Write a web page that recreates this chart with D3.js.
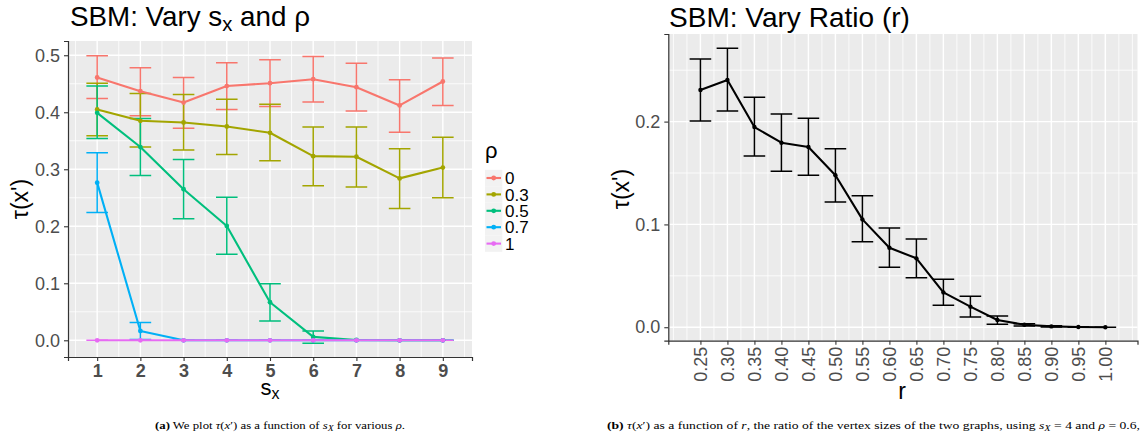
<!DOCTYPE html>
<html>
<head>
<meta charset="utf-8">
<script src="https://cdn.jsdelivr.net/npm/d3@7/dist/d3.min.js"></script>
<style>
  html, body { margin: 0; padding: 0; background: #fff; }
  svg { display: block; }
</style>
</head>
<body>
<svg id="chart" width="1143" height="443"></svg>
<script>
// ---------------- DATA ----------------
const sxValues = [1, 2, 3, 4, 5, 6, 7, 8, 9];
const rhoLevels = ["0", "0.3", "0.5", "0.7", "1"];
const rhoColors = ["#F8766D", "#A3A500", "#00BF7D", "#00B0F6", "#E76BF3"];

const meanRho0  = [0.461, 0.437, 0.417, 0.446, 0.451, 0.458, 0.444, 0.412, 0.454];
const lowRho0   = [0.424, 0.394, 0.372, 0.405, 0.410, 0.418, 0.402, 0.365, 0.412];
const highRho0  = [0.499, 0.478, 0.461, 0.487, 0.492, 0.498, 0.486, 0.457, 0.495];

const meanRho03 = [0.405, 0.385, 0.382, 0.375, 0.364, 0.323, 0.322, 0.284, 0.303];
const lowRho03  = [0.359, 0.339, 0.334, 0.326, 0.315, 0.271, 0.269, 0.231, 0.250];
const highRho03 = [0.451, 0.433, 0.431, 0.423, 0.414, 0.374, 0.374, 0.336, 0.356];

const meanRho05 = [0.399, 0.339, 0.265, 0.2005, 0.0667, 0.0060, 0.0005, 0.0, 0.0];
const lowRho05  = [0.354, 0.289, 0.213, 0.151, 0.034, -0.005, 0.0, 0.0, 0.0];
const highRho05 = [0.446, 0.389, 0.317, 0.251, 0.099, 0.0163, 0.001, 0.0, 0.0];

const meanRho07 = [0.2765, 0.0163, 0, 0, 0, 0, 0, 0, 0];
const lowRho07  = [0.224, 0.0016, 0, 0, 0, 0, 0, 0, 0];
const highRho07 = [0.329, 0.031, 0, 0, 0, 0, 0, 0, 0];

const meanRho1  = [0, 0, 0, 0, 0, 0, 0, 0, 0];
const lowRho1   = [0, 0, 0, 0, 0, 0, 0, 0, 0];
const highRho1  = [0, 0, 0, 0, 0, 0, 0, 0, 0];

const leftXTicks = [1, 2, 3, 4, 5, 6, 7, 8, 9];
const leftYTicks = [0.0, 0.1, 0.2, 0.3, 0.4, 0.5];

const ratios   = [0.25, 0.30, 0.35, 0.40, 0.45, 0.50, 0.55, 0.60, 0.65, 0.70, 0.75, 0.80, 0.85, 0.90, 0.95, 1.00];
const meanR    = [0.2307, 0.2405, 0.1947, 0.1795, 0.1753, 0.1478, 0.1049, 0.0773, 0.0670, 0.0339, 0.0200, 0.0070, 0.0024, 0.0008, 0.0002, 0.0000];
const lowR     = [0.2006, 0.2103, 0.1665, 0.1516, 0.1478, 0.1218, 0.0832, 0.0583, 0.0482, 0.0213, 0.0099, 0.0028, 0.0012, 0.0002, 0.0000, 0.0000];
const highR    = [0.2609, 0.2713, 0.2236, 0.2074, 0.2032, 0.1736, 0.1279, 0.0965, 0.0858, 0.0466, 0.0301, 0.0109, 0.0035, 0.0015, 0.0004, 0.0000];
const rightXTicks = ratios;
const rightYTicks = [0.0, 0.1, 0.2];

// build series table
const leftSeries = [
  { level: rhoLevels[0], color: rhoColors[0], mean: meanRho0,  low: lowRho0,  high: highRho0 },
  { level: rhoLevels[1], color: rhoColors[1], mean: meanRho03, low: lowRho03, high: highRho03 },
  { level: rhoLevels[2], color: rhoColors[2], mean: meanRho05, low: lowRho05, high: highRho05 },
  { level: rhoLevels[3], color: rhoColors[3], mean: meanRho07, low: lowRho07, high: highRho07 },
  { level: rhoLevels[4], color: rhoColors[4], mean: meanRho1,  low: lowRho1,  high: highRho1 }
];

// ---------------- DRAW ----------------
const svg = d3.select("#chart");
const FONT = "'Liberation Sans', Arial, Helvetica, sans-serif";
const SERIF = "'Liberation Serif', 'Times New Roman', serif";
const TICKCOL = "#4D4D4D";

svg.append("rect").attr("width", 1143).attr("height", 443).attr("fill", "#fff");

function panel(g, x, y, xMajor, yMajor, xMinor, yMinor) {
  const [x0, x1] = x.range();
  const [y0, y1] = y.range(); // y0 bottom, y1 top
  g.append("rect").attr("x", x0).attr("y", y1).attr("width", x1 - x0).attr("height", y0 - y1).attr("fill", "#EBEBEB");
  g.selectAll(".gminx").data(xMinor).enter().append("line")
    .attr("x1", d => x(d)).attr("x2", d => x(d)).attr("y1", y1).attr("y2", y0)
    .attr("stroke", "#fff").attr("stroke-width", 0.8);
  g.selectAll(".gminy").data(yMinor).enter().append("line")
    .attr("y1", d => y(d)).attr("y2", d => y(d)).attr("x1", x0).attr("x2", x1)
    .attr("stroke", "#fff").attr("stroke-width", 0.8);
  g.selectAll(".gmajx").data(xMajor).enter().append("line")
    .attr("x1", d => x(d)).attr("x2", d => x(d)).attr("y1", y1).attr("y2", y0)
    .attr("stroke", "#fff").attr("stroke-width", 1.4);
  g.selectAll(".gmajy").data(yMajor).enter().append("line")
    .attr("y1", d => y(d)).attr("y2", d => y(d)).attr("x1", x0).attr("x2", x1)
    .attr("stroke", "#fff").attr("stroke-width", 1.4);
}

function styleAxis(a) {
  a.select(".domain").attr("stroke", "#333").attr("stroke-width", 1.2);
  a.selectAll(".tick line").attr("stroke", "#333").attr("stroke-width", 1.1);
  a.selectAll(".tick text").attr("fill", TICKCOL).attr("font-family", FONT).attr("font-size", 18);
}

function errorBars(g, xs, lo, hi, x, y, halfW, color, sw) {
  d3.range(xs.length).forEach(i => {
    const cx = x(xs[i]);
    const xl = x(xs[i] - halfW), xr = x(xs[i] + halfW);
    const path = d3.path();
    path.moveTo(xl, y(hi[i])); path.lineTo(xr, y(hi[i]));
    path.moveTo(cx, y(hi[i])); path.lineTo(cx, y(lo[i]));
    path.moveTo(xl, y(lo[i])); path.lineTo(xr, y(lo[i]));
    g.append("path").attr("d", path.toString()).attr("fill", "none")
      .attr("stroke", color).attr("stroke-width", sw);
  });
}

// fit a text element to a target width by scaling its font sizes
function fitWidth(sel, target) {
  const w = sel.node().getBBox().width;
  if (!w) return;
  const k = target / w;
  sel.attr("font-size", parseFloat(sel.attr("font-size")) * k);
  sel.selectAll("tspan").each(function () {
    const t = d3.select(this);
    if (t.attr("font-size")) t.attr("font-size", parseFloat(t.attr("font-size")) * k);
    if (t.attr("dy")) t.attr("dy", parseFloat(t.attr("dy")) * k);
  });
}

// ===== LEFT CHART =====
const xL = d3.scaleLinear().domain([0.325, 9.675]).range([68, 472]);
const yL = d3.scaleLinear().domain([-0.0293, 0.525]).range([357, 41]);
const gL = svg.append("g");
const xMinorL = d3.range(0, leftXTicks.length + 1).map(i => leftXTicks[0] - 0.5 + i);
const yMinorL = d3.range(0, leftYTicks.length - 1).map(i => (leftYTicks[i] + leftYTicks[i + 1]) / 2);
panel(gL, xL, yL, leftXTicks, leftYTicks, xMinorL, yMinorL);

leftSeries.forEach(s => {
  errorBars(gL, sxValues, s.low, s.high, xL, yL, 0.25, s.color, 1.5);
});
const lineL = d3.line().x((d, i) => xL(sxValues[i])).y(d => yL(d));
leftSeries.forEach(s => {
  gL.append("path").attr("d", lineL(s.mean)).attr("fill", "none")
    .attr("stroke", s.color).attr("stroke-width", 2.1).attr("stroke-linejoin", "round");
  gL.selectAll(null).data(s.mean).enter().append("circle")
    .attr("cx", (d, i) => xL(sxValues[i])).attr("cy", d => yL(d)).attr("r", 2.4).attr("fill", s.color);
});

const axLx = gL.append("g").attr("transform", "translate(0,357)")
  .call(d3.axisBottom(xL).tickValues(leftXTicks).tickFormat(d3.format("d")).tickSizeOuter(0).tickSize(4).tickPadding(4));
styleAxis(axLx);
axLx.selectAll(".tick text").attr("font-weight", "bold").attr("dy", "0.66em");
const axLy = gL.append("g").attr("transform", "translate(68,0)")
  .call(d3.axisLeft(yL).tickValues(leftYTicks).tickFormat(d3.format(".1f")).tickSizeOuter(0).tickSize(4).tickPadding(4));
styleAxis(axLy);

// titles & labels
const tL = svg.append("text").attr("x", 70).attr("y", 26).attr("font-family", FONT).attr("font-size", 26).attr("fill", "#000");
tL.append("tspan").text("SBM: Vary s");
tL.append("tspan").attr("font-size", 19).attr("dy", 5).text("x");
tL.append("tspan").attr("dy", -5).text(" and ρ");
fitWidth(tL, 240);

const xlabL = svg.append("text").attr("x", 270).attr("y", 395).attr("text-anchor", "middle")
  .attr("font-family", FONT).attr("font-size", 22).attr("fill", "#000");
xlabL.append("tspan").text("s");
xlabL.append("tspan").attr("font-size", 16).attr("dy", 4).text("x");

svg.append("text").attr("transform", "translate(28,199) rotate(-90)").attr("text-anchor", "middle")
  .attr("font-family", FONT).attr("font-size", 23).attr("fill", "#000").text("τ(x')");

// legend
const lg = svg.append("g");
lg.append("text").attr("x", 485).attr("y", 158).attr("font-family", FONT).attr("font-size", 22).attr("fill", "#000").text("ρ");
leftSeries.forEach((s, i) => {
  const cy = 178 + i * 16.4;
  lg.append("rect").attr("x", 485).attr("y", cy - 8.2).attr("width", 17.3).attr("height", 16.4).attr("fill", "#F2F2F2");
  lg.append("line").attr("x1", 486.5).attr("x2", 501).attr("y1", cy).attr("y2", cy).attr("stroke", s.color).attr("stroke-width", 2.1);
  lg.append("circle").attr("cx", 493.7).attr("cy", cy).attr("r", 2.4).attr("fill", s.color);
  lg.append("text").attr("x", 505).attr("y", cy).attr("dy", "0.36em").attr("font-family", FONT).attr("font-size", 17).attr("fill", "#000").text(s.level);
});

// ===== RIGHT CHART =====
const xR = d3.scaleLinear().domain([0.1905, 1.0595]).range([668.3, 1137.5]);
const yR = d3.scaleLinear().domain([-0.0131, 0.2852]).range([340.7, 34]);
const gR = svg.append("g");
const stepR = rightXTicks[1] - rightXTicks[0];
const xMinorR = d3.range(0, 2 * (rightXTicks.length + 1) + 1).map(i => rightXTicks[0] - stepR + i * stepR / 2)
  .filter(v => v >= xR.domain()[0] && v <= xR.domain()[1]);
const yMinorR = [0.05, 0.15, 0.25];
panel(gR, xR, yR, rightXTicks, rightYTicks, xMinorR, yMinorR);

errorBars(gR, ratios, lowR, highR, xR, yR, 0.02, "#000", 1.5);
const lineR = d3.line().x((d, i) => xR(ratios[i])).y(d => yR(d));
gR.append("path").attr("d", lineR(meanR)).attr("fill", "none").attr("stroke", "#000").attr("stroke-width", 2.1).attr("stroke-linejoin", "round");
gR.selectAll(null).data(meanR).enter().append("circle")
  .attr("cx", (d, i) => xR(ratios[i])).attr("cy", d => yR(d)).attr("r", 2.2).attr("fill", "#000");

const axRx = gR.append("g").attr("transform", "translate(0,340.7)")
  .call(d3.axisBottom(xR).tickValues(rightXTicks).tickFormat(d3.format(".2f")).tickSizeOuter(0).tickSize(4).tickPadding(4));
styleAxis(axRx);
axRx.selectAll(".tick text").attr("text-anchor", "end").attr("transform", "translate(0,6) rotate(-90)")
  .attr("x", 0).attr("y", 0).attr("dy", "0.36em");
const axRy = gR.append("g").attr("transform", "translate(668.3,0)")
  .call(d3.axisLeft(yR).tickValues(rightYTicks).tickFormat(d3.format(".1f")).tickSizeOuter(0).tickSize(4).tickPadding(4));
styleAxis(axRy);

const tR = svg.append("text").attr("x", 669).attr("y", 26.5).attr("font-family", FONT).attr("font-size", 27).attr("fill", "#000").text("SBM: Vary Ratio (r)");
fitWidth(tR, 241);
svg.append("text").attr("x", 902).attr("y", 399).attr("text-anchor", "middle")
  .attr("font-family", FONT).attr("font-size", 23).attr("fill", "#000").text("r");
svg.append("text").attr("transform", "translate(629,189) rotate(-90)").attr("text-anchor", "middle")
  .attr("font-family", FONT).attr("font-size", 23).attr("fill", "#000").text("τ(x')");

// ===== CAPTIONS =====
function caption(x, y, parts, len) {
  const t = svg.append("text").attr("x", x).attr("y", y).attr("font-family", SERIF).attr("font-size", 10.5).attr("fill", "#000");
  parts.forEach(p => {
    const ts = t.append("tspan").text(p.t);
    if (p.b) ts.attr("font-weight", "bold");
    if (p.i) ts.attr("font-style", "italic");
    if (p.sub) ts.attr("font-size", 8).attr("dy", 2);
    if (p.up) ts.attr("dy", -2);
  });
  if (len) t.attr("textLength", len).attr("lengthAdjust", "spacingAndGlyphs");
}
caption(155, 429, [
  { t: "(a)", b: true }, { t: " We plot " }, { t: "τ", i: true }, { t: "(" }, { t: "x", i: true }, { t: "′" }, { t: ") as a function of " },
  { t: "s", i: true }, { t: "X", i: true, sub: true }, { t: " for various ", up: true }, { t: "ρ", i: true }, { t: "." }
], 250);
caption(607, 429, [
  { t: "(b)", b: true }, { t: " " }, { t: "τ", i: true }, { t: "(" }, { t: "x", i: true }, { t: "′" },
  { t: ") as a function of " }, { t: "r", i: true }, { t: ", the ratio of the vertex sizes of the two graphs, using " },
  { t: "s", i: true }, { t: "X", i: true, sub: true }, { t: " = 4 and ", up: true }, { t: "ρ", i: true }, { t: " = 0.6," }
], 533);
</script>
</body>
</html>
